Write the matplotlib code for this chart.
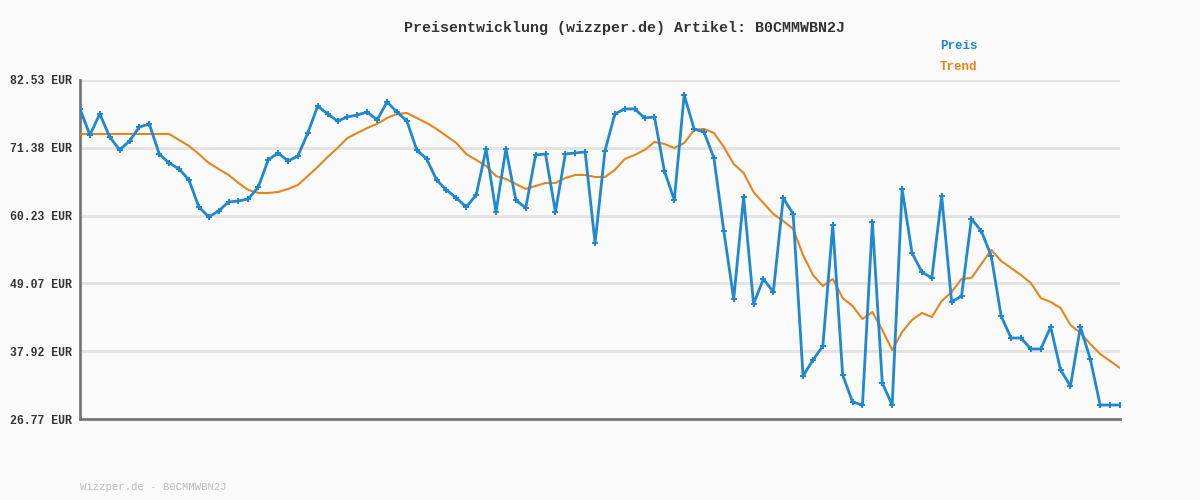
import numpy as np
import matplotlib
matplotlib.use("Agg")
import matplotlib.pyplot as plt

plt.rcParams["font.family"] = ["Liberation Mono", "DejaVu Sans Mono"]

preis = [
    77.77, 73.49, 76.94, 73.16, 71.02, 72.50, 74.80, 75.30, 70.36, 68.88,
    67.90, 66.09, 61.64, 60.00, 60.99, 62.47, 62.63, 62.96, 64.93, 69.38,
    70.53, 69.21, 70.03, 73.82, 78.26, 76.94, 75.79, 76.45, 76.78, 77.27,
    75.96, 78.92, 77.27, 75.79, 71.02, 69.54, 66.09, 64.44, 63.12, 61.64,
    63.62, 71.19, 60.82, 71.19, 62.80, 61.48, 70.20, 70.36, 60.82, 70.36,
    70.53, 70.69, 55.72, 70.86, 76.94, 77.77, 77.77, 76.28, 76.45, 67.57,
    62.80, 80.07, 74.48, 73.98, 69.70, 57.70, 46.51, 63.29, 45.69, 49.80,
    47.66, 63.12, 60.49, 33.84, 36.48, 38.78, 58.68, 34.01, 29.57, 29.07,
    59.18, 32.69, 29.07, 64.61, 54.08, 50.95, 49.96, 63.45, 46.02, 47.00,
    59.67, 57.70, 53.58, 43.71, 40.09, 40.09, 38.29, 38.29, 41.90, 34.83,
    32.20, 41.90, 36.64, 29.07, 29.07, 29.07,
]
trend = [
    73.65, 73.65, 73.65, 73.65, 73.65, 73.65, 73.65, 73.65, 73.65, 73.65,
    72.67, 71.68, 70.36, 68.88, 67.90, 66.91, 65.59, 64.44, 63.95, 63.95,
    64.11, 64.61, 65.26, 66.74, 68.22, 69.87, 71.35, 72.99, 73.82, 74.64,
    75.30, 76.28, 76.94, 77.11, 76.28, 75.46, 74.48, 73.32, 72.17, 70.36,
    69.38, 68.39, 66.74, 66.25, 65.43, 64.61, 65.10, 65.59, 65.59, 66.41,
    66.91, 66.91, 66.58, 66.58, 67.73, 69.54, 70.20, 71.02, 72.34, 72.01,
    71.35, 72.17, 74.31, 74.48, 73.82, 71.51, 68.72, 67.24, 64.11, 62.30,
    60.49, 59.34, 58.03, 53.75, 50.46, 48.65, 49.80, 46.67, 45.36, 43.22,
    44.37, 41.41, 38.12, 41.08, 43.06, 44.21, 43.55, 46.18, 47.66, 49.80,
    49.96, 52.27, 54.57, 52.76, 51.61, 50.46, 49.14, 46.67, 46.02, 45.03,
    42.23, 40.92, 39.11, 37.46, 36.31, 35.16,
]
y_ticks = [26.77, 37.92, 49.07, 60.23, 71.38, 82.53]
artikel = "B0CMMWBN2J"

blue = "#1f88d0"
orange = "#e3861c"
bg = "#fafafa"

fig = plt.figure(figsize=(12, 5), dpi=100, facecolor=bg)
ax = fig.add_axes([80 / 1200, 1 - 419 / 500, 1040 / 1200, 339 / 500], facecolor=bg)

x = np.arange(len(preis))
ax.plot(x, trend, color=orange, linewidth=1.5, zorder=3)
ax.plot(x, preis, color=blue, linewidth=2, marker="P", markersize=4,
        markeredgewidth=0, zorder=4)

ax.set_xlim(0, len(preis) - 1)
ax.set_ylim(y_ticks[0], y_ticks[-1])
ax.set_yticks(y_ticks)
ax.set_yticklabels([f"{v:.2f} EUR" for v in y_ticks], fontsize=8.3,
                   color="#333333", fontweight="bold")
ax.set_xticks([])
ax.tick_params(axis="y", length=0, pad=6)
ax.grid(axis="y", color="#e2e2e2", linewidth=2)
ax.set_axisbelow(True)
for side in ["top", "right"]:
    ax.spines[side].set_visible(False)
ax.spines["left"].set_color("#777777")
ax.spines["left"].set_linewidth(2)
ax.spines["bottom"].set_color("#777777")
ax.spines["bottom"].set_linewidth(2)

fig.text(0.52, 1 - 28 / 500, f"Preisentwicklung (wizzper.de) Artikel: {artikel}",
         ha="center", va="center", fontsize=10.8, color="#333333", fontweight="bold")
fig.text(940 / 1200, 1 - 46 / 500, "Preis", color=blue, fontsize=9,
         fontweight="bold", va="center")
fig.text(940 / 1200, 1 - 67 / 500, "Trend", color=orange, fontsize=9,
         fontweight="bold", va="center")
fig.text(80 / 1200, 1 - 487 / 500, f"Wizzper.de - {artikel}", color="#bbbbbb",
         fontsize=7.7, va="center")

fig.savefig("out.png", dpi=100, facecolor=bg)
